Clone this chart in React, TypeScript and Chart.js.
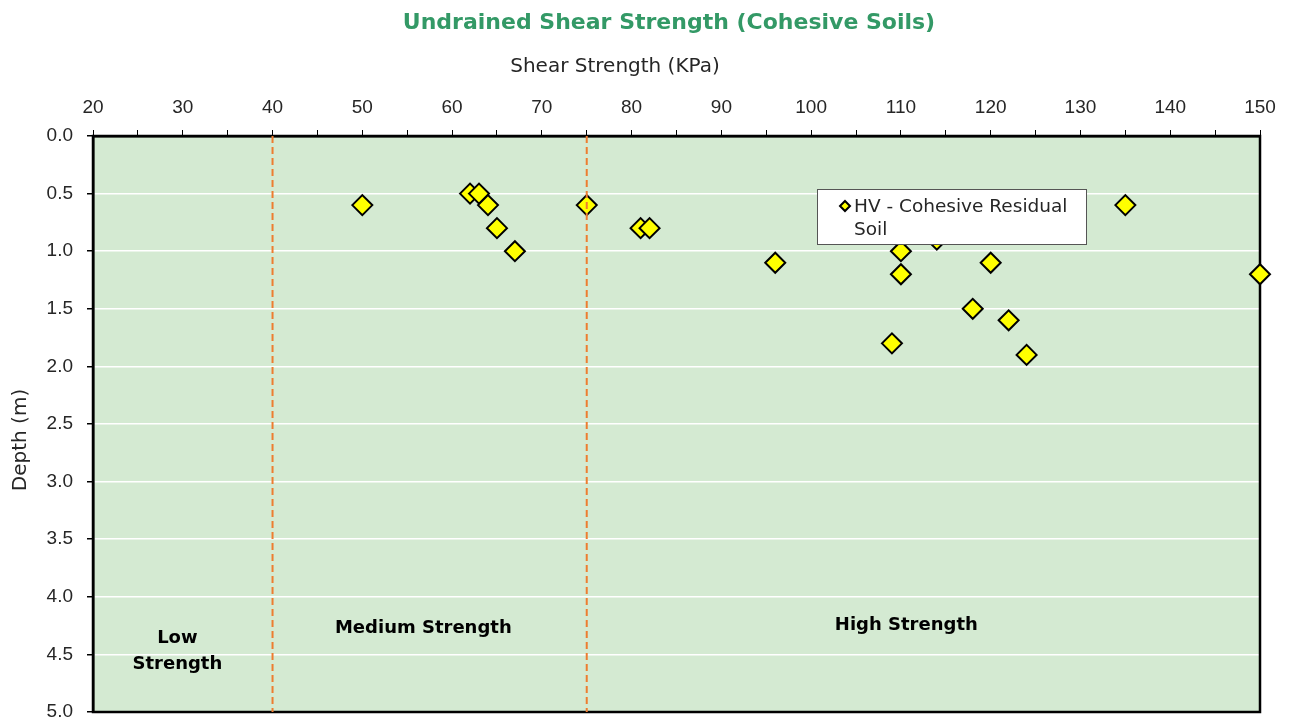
import React, { useEffect, useRef } from 'react';
import { Chart, registerables } from 'chart.js';

Chart.register(...registerables);

// ---- Data ----
const shearStrength = [50, 62, 63, 64, 65, 67, 75, 81, 82, 96, 110, 110, 114, 120, 118, 122, 109, 124, 135, 150];
const depth = [0.6, 0.5, 0.5, 0.6, 0.8, 1.0, 0.6, 0.8, 0.8, 1.1, 1.0, 1.2, 0.9, 1.1, 1.5, 1.6, 1.8, 1.9, 0.6, 1.2];
const seriesName = 'HV - Cohesive Residual Soil';
const legendLines = ['HV - Cohesive Residual', 'Soil'];
const boundaryStrengths = [40, 75];
const depthRange = [0, 5];
const strengthRange = [20, 150];
const zoneNames = [['Low', 'Strength'], ['Medium Strength'], ['High Strength']];
const zoneLabelX = [29.4, 56.8, 110.6];
const zoneLabelY = [4.47, 4.27, 4.25];
const chartTitle = 'Undrained Shear Strength (Cohesive Soils)';
const xTitle = 'Shear Strength (KPa)';
const yTitle = 'Depth (m)';

const FONT = "'DejaVu Sans', sans-serif";
const TICK_FONT = "'Liberation Sans', Arial, sans-serif";
const TEXT = '#262626';

const decorPlugin = {
  id: 'decor',
  beforeDraw(chart: any) {
    const { ctx, chartArea: a } = chart;
    ctx.save();
    ctx.fillStyle = '#D4EAD2';
    ctx.fillRect(a.left, a.top, a.right - a.left, a.bottom - a.top);
    ctx.restore();
  },
  beforeDatasetsDraw(chart: any) {
    const { ctx, chartArea: a, scales } = chart;
    ctx.save();
    // zone labels
    ctx.fillStyle = '#000';
    ctx.font = `bold 18px ${FONT}`;
    ctx.textAlign = 'center';
    ctx.textBaseline = 'middle';
    zoneNames.forEach((lines, i) => {
      const px = scales.x.getPixelForValue(zoneLabelX[i]);
      const py = scales.y.getPixelForValue(zoneLabelY[i]);
      const lh = 26;
      lines.forEach((t, j) => {
        ctx.fillText(t, px, py + (j - (lines.length - 1) / 2) * lh);
      });
    });
    // frame
    ctx.strokeStyle = '#000';
    ctx.lineWidth = 2.5;
    ctx.strokeRect(a.left, a.top, a.right - a.left, a.bottom - a.top);
    ctx.restore();
  },
  afterDraw(chart: any) {
    const { ctx } = chart;
    ctx.save();
    // title
    ctx.fillStyle = '#339966';
    ctx.font = `bold 22px ${FONT}`;
    ctx.textAlign = 'center';
    ctx.textBaseline = 'middle';
    ctx.fillText(chartTitle, 669, 23);
    // x title
    ctx.fillStyle = TEXT;
    ctx.font = `20px ${FONT}`;
    ctx.fillText(xTitle, 615, 67);
    // y title
    ctx.save();
    ctx.translate(21, 440);
    ctx.rotate(-Math.PI / 2);
    ctx.fillText(yTitle, 0, 0);
    ctx.restore();
    // legend
    const lx = 817, ly = 189, lw = 269, lh = 55;
    ctx.fillStyle = '#fff';
    ctx.fillRect(lx, ly, lw, lh);
    ctx.strokeStyle = '#555';
    ctx.lineWidth = 1;
    ctx.strokeRect(lx + 0.5, ly + 0.5, lw, lh);
    // marker
    const mx = 845, my = 206, r = 5;
    ctx.beginPath();
    ctx.moveTo(mx, my - r);
    ctx.lineTo(mx + r, my);
    ctx.lineTo(mx, my + r);
    ctx.lineTo(mx - r, my);
    ctx.closePath();
    ctx.fillStyle = '#FFFF00';
    ctx.fill();
    ctx.strokeStyle = '#000';
    ctx.lineWidth = 2;
    ctx.stroke();
    ctx.fillStyle = TEXT;
    ctx.font = `18.5px ${FONT}`;
    ctx.textAlign = 'left';
    ctx.textBaseline = 'middle';
    legendLines.forEach((t, i) => ctx.fillText(t, 854, 207 + i * 23));
    ctx.restore();
  },
};

export default function App() {
  const ref = useRef<HTMLCanvasElement>(null);
  useEffect(() => {
    if (!ref.current) return;
    const points = shearStrength.map((x, i) => ({ x, y: depth[i] }));
    const lineSets = boundaryStrengths.map((b) => ({
      type: 'line' as const,
      label: `boundary ${b}`,
      data: depthRange.map((d) => ({ x: b, y: d })),
      borderColor: '#ED7D31',
      borderWidth: 2,
      borderDash: [7, 4],
      pointRadius: 0,
      fill: false,
      order: 0,
    }));
    const chart = new Chart(ref.current, {
      type: 'scatter',
      data: {
        datasets: [
          ...lineSets,
          {
            type: 'scatter',
            label: seriesName,
            data: points,
            pointStyle: 'rectRot',
            pointRadius: 10,
            backgroundColor: '#FFFF00',
            borderColor: '#000',
            borderWidth: 2,
            clip: false,
            order: 1,
          } as any,
        ],
      },
      options: {
        animation: false,
        responsive: false,
        layout: { autoPadding: false, padding: { left: 0, top: 0, right: 33, bottom: 8 } },
        plugins: { legend: { display: false }, title: { display: false }, tooltip: { enabled: false } },
        scales: {
          x: {
            type: 'linear',
            position: 'top',
            min: strengthRange[0],
            max: strengthRange[1],
            afterFit: (s: any) => {
              s.height = 136;
              s.paddingLeft = 0;
              s.paddingRight = 0;
            },
            ticks: {
              stepSize: 5,
              autoSkip: false,
              maxRotation: 0,
              color: TEXT,
              font: { family: TICK_FONT, size: 19 },
              padding: 11,
              callback: (v: any) => (Number(v) % 10 === 0 ? String(v) : ''),
            },
            grid: { drawOnChartArea: false, drawTicks: true, tickLength: 6, color: '#000', tickColor: '#000' },
            border: { display: true, color: '#000', width: 2.5 },
          },
          y: {
            type: 'linear',
            reverse: true,
            min: depthRange[0],
            max: depthRange[1],
            afterFit: (s: any) => {
              s.width = 93;
              s.paddingTop = 0;
              s.paddingBottom = 0;
            },
            ticks: {
              stepSize: 0.5,
              color: TEXT,
              font: { family: TICK_FONT, size: 19 },
              padding: 14,
              callback: (v: any) => Number(v).toFixed(1),
            },
            grid: { color: '#FFFFFF', lineWidth: 1.5, drawTicks: true, tickLength: 6, tickColor: '#000' },
            border: { display: true, color: '#000', width: 2.5 },
          },
        },
      },
      plugins: [decorPlugin],
    });
    return () => chart.destroy();
  }, []);
  return (
    <div style={{ position: 'absolute', left: 0, top: 0, width: 1293, height: 720 }}>
      <canvas ref={ref} width={1293} height={720} style={{ display: 'block' }} />
    </div>
  );
}
